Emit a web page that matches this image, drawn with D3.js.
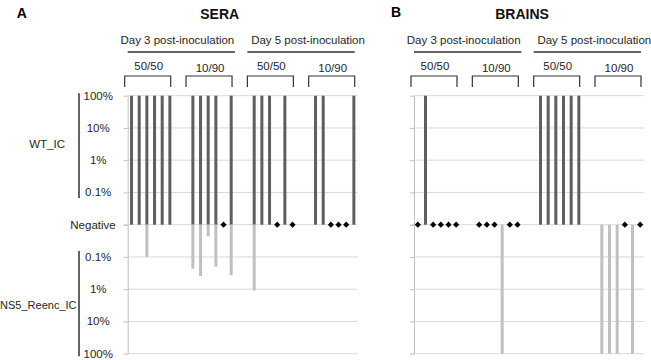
<!DOCTYPE html>
<html>
<head>
<meta charset="utf-8">
<script src="https://cdn.jsdelivr.net/npm/d3@7"></script>
<style>
body { margin: 0; background: #fff; }
text { font-family: "Liberation Sans", Arial, sans-serif; }
</style>
</head>
<body>
<svg id="chart" width="651" height="360"></svg>
<script>
// 30 slots per panel: 4 groups of 6 animals, with 2 empty slots between groups
const samples = [
  "d3a1","d3a2","d3a3","d3a4","d3a5","d3a6", "gap1","gap2",
  "d3b1","d3b2","d3b3","d3b4","d3b5","d3b6", "gap3","gap4",
  "d5a1","d5a2","d5a3","d5a4","d5a5","d5a6", "gap5","gap6",
  "d5b1","d5b2","d5b3","d5b4","d5b5","d5b6"
];

// percent of each virus; 0 = negative, null = empty slot
const seraWT = [100,100,100,100,100,100, null,null, 100,100,100,100,0,100, null,null, 100,100,100,0,100,0, null,null, 100,100,0,0,0,100];
const seraNS5 = [0,0,0.1,0,0,0, null,null, 0.23,0.39,0.023,0.2,0,0.37, null,null, 1.1,0,0,0,0,0, null,null, 0,0,0,0,0,0];
const brainWT = [0,100,0,0,0,0, null,null, 0,0,0,0,0,0, null,null, 100,100,100,100,100,100, null,null, 0,0,0,0,0,0];
const brainNS5 = [0,0,0,0,0,0, null,null, 0,0,0,100,0,0, null,null, 0,0,0,0,0,0, null,null, 100,100,100,0,100,0];

const groupLabels = ["50/50", "10/90", "50/50", "10/90"];
const groupFirst = ["d3a1", "d3b1", "d5a1", "d5b1"];
const groupLast = ["d3a6", "d3b6", "d5a6", "d5b6"];
const dayLabels = ["Day 3 post-inoculation", "Day 5 post-inoculation"];

const tickValues = [0.01, 0.1, 1, 10, 100];
const tickLabels = ["Negative", "0.1%", "1%", "10%", "100%"];

let svg = d3.select("#chart");

let yTop = 95.7, yNeg = 224.7, yBot = 353.7;
let yWT = d3.scaleLog().domain([0.01, 100]).range([yNeg, yTop]);
let yNS = d3.scaleLog().domain([0.01, 100]).range([yNeg, yBot]);

function drawPanel(x0, letter, letterDx, letterY, title, titleDx, wt, ns5, withLabels) {
    let x = d3.scaleBand().domain(samples).range([x0, x0 + 230]);
    let bw = x.bandwidth();
    let cx = s => x(s) + bw / 2;
    let g = svg.append("g");

    // gridlines
    g.selectAll(".gwt").data(tickValues).enter().append("line")
        .attr("x1", x0).attr("x2", x0 + 230)
        .attr("y1", d => yWT(d)).attr("y2", d => yWT(d))
        .attr("stroke", "#d9d9d9").attr("stroke-width", 1);
    g.selectAll(".gns").data(tickValues.slice(1)).enter().append("line")
        .attr("x1", x0).attr("x2", x0 + 230)
        .attr("y1", d => yNS(d)).attr("y2", d => yNS(d))
        .attr("stroke", "#d9d9d9").attr("stroke-width", 1);

    // axes (ticks only, labels drawn by hand)
    [yWT, yNS].forEach(sc => {
        let ax = g.append("g").attr("transform", "translate(" + x0 + ",0)")
            .call(d3.axisLeft(sc).tickValues(tickValues).tickFormat("").tickSize(4).tickSizeOuter(0));
        ax.selectAll("path,line").attr("stroke", "#bfbfbf");
    });

    let idx = samples.map((s, i) => i);

    // WT_IC bars (up)
    g.selectAll(".wt").data(idx.filter(i => wt[i] > 0)).enter().append("rect")
        .attr("x", i => cx(samples[i]) - 1.5)
        .attr("width", 3)
        .attr("y", i => yWT(wt[i]))
        .attr("height", i => yNeg - yWT(wt[i]))
        .attr("fill", "#5f5f5f");

    // NS5_Reenc_IC bars (down)
    g.selectAll(".ns").data(idx.filter(i => ns5[i] > 0)).enter().append("rect")
        .attr("x", i => cx(samples[i]) - 1.5)
        .attr("width", 3)
        .attr("y", yNeg)
        .attr("height", i => yNS(ns5[i]) - yNeg)
        .attr("fill", "#c0c0c0");

    // both negative
    g.selectAll(".neg").data(idx.filter(i => wt[i] === 0 && ns5[i] === 0)).enter().append("path")
        .attr("d", d3.symbol(d3.symbolSquare, 19)())
        .attr("transform", i => "translate(" + cx(samples[i]) + "," + yNeg + ") rotate(45)")
        .attr("fill", "#000");

    // headers
    svg.append("text").attr("x", x0 + letterDx).attr("y", letterY)
        .attr("font-size", 14).attr("font-weight", "bold").text(letter);
    svg.append("text").attr("x", x0 + titleDx).attr("y", 19.3).attr("text-anchor", "middle")
        .attr("font-size", 14).attr("font-weight", "bold").attr("fill", "#111").text(title);

    dayLabels.forEach((lab, k) => {
        let a = x(groupFirst[2 * k]) - (k ? 3 : 0);
        let b = x(groupLast[2 * k + 1]) + bw - (k ? 3 : 0);
        svg.append("text").attr("x", (a + b) / 2 + (k ? 7 : -4)).attr("y", 44)
            .attr("text-anchor", "middle").attr("font-size", 11.5).attr("fill", "#262626").text(lab);
        svg.append("line").attr("x1", a).attr("x2", b).attr("y1", 52).attr("y2", 52)
            .attr("stroke", "#333").attr("stroke-width", 1.4);
    });

    groupLabels.forEach((lab, k) => {
        let a = x(groupFirst[k]) - 3;
        let b = x(groupLast[k]) + bw - 3;
        svg.append("text").attr("x", (a + b) / 2 + 1).attr("y", k % 2 ? 72 : 70)
            .attr("text-anchor", "middle").attr("font-size", 11.5).attr("fill", "#262626").text(lab);
        svg.append("path")
            .attr("d", "M" + a + ",87V76H" + b + "V87")
            .attr("fill", "none").attr("stroke", "#333").attr("stroke-width", 1.2);
    });

    if (withLabels) {
        tickValues.forEach((v, k) => {
            if (k === 0) {
                svg.append("text").attr("x", x0 - 12).attr("y", yWT(v)).attr("dy", "0.35em")
                    .attr("text-anchor", "end").attr("font-size", 11.5).attr("fill", "#262626").text(tickLabels[k]);
                return;
            }
            [yWT, yNS].forEach(sc => {
                svg.append("text").attr("x", x0 - 29.5).attr("y", sc(v)).attr("dy", "0.35em")
                    .attr("text-anchor", "middle").attr("font-size", 11.5).attr("fill", "#262626").text(tickLabels[k]);
            });
        });
        svg.append("line").attr("x1", 79).attr("x2", 79)
            .attr("y1", yWT(100) - 2.5).attr("y2", yWT(0.1) + 5.5)
            .attr("stroke", "#222").attr("stroke-width", 1.4);
        svg.append("line").attr("x1", 79).attr("x2", 79)
            .attr("y1", yNS(0.1) - 6).attr("y2", yNS(100) + 2.5)
            .attr("stroke", "#222").attr("stroke-width", 1.4);
        svg.append("text").attr("x", 65).attr("y", (yWT(10) + yWT(1)) / 2).attr("dy", "0.35em")
            .attr("text-anchor", "end").attr("font-size", 11.5).attr("fill", "#262626").text("WT_IC");
        svg.append("text").attr("x", 76.5).attr("y", (yNS(1) + yNS(10)) / 2).attr("dy", "0.35em")
            .attr("text-anchor", "end").attr("font-size", 11).attr("fill", "#262626").text("NS5_Reenc_IC");
    }
}

drawPanel(127.7, "A", -111, 18.3, "SERA", 92, seraWT, seraNS5, true);
drawPanel(414, "B", -23, 16.7, "BRAINS", 108, brainWT, brainNS5, false);
</script>
</body>
</html>
